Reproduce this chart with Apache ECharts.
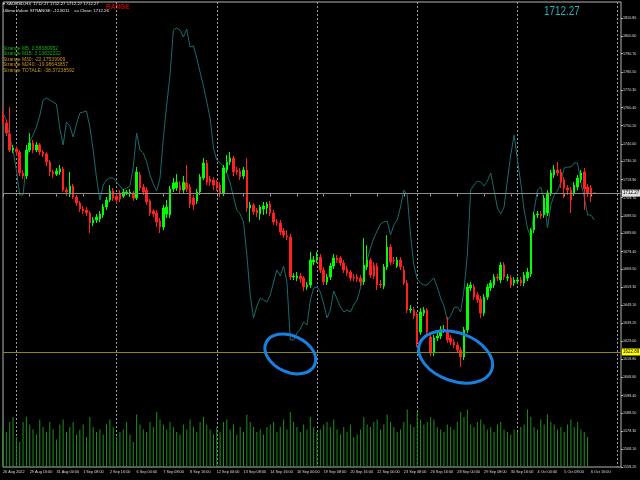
<!DOCTYPE html>
<html><head><meta charset="utf-8">
<script src="https://cdn.jsdelivr.net/npm/echarts@6/dist/echarts.min.js"></script>
<style>html,body{margin:0;padding:0;background:#000}#c{width:640px;height:480px}</style>
</head><body><div id="c"></div>
<script>
const xTickLabels = ['26 Aug 2022','29 Aug 16:00','31 Aug 00:00','1 Sep 08:00','2 Sep 16:00','6 Sep 00:00','7 Sep 08:00','8 Sep 16:00','12 Sep 00:00','13 Sep 08:00','14 Sep 16:00','16 Sep 00:00','19 Sep 08:00','20 Sep 16:00','22 Sep 00:00','23 Sep 08:00','26 Sep 16:00','28 Sep 00:00','29 Sep 08:00','30 Sep 16:00','4 Oct 00:00','5 Oct 08:00','6 Oct 16:00'];
const priceTicks = [1810.80,1800.60,1790.70,1780.50,1770.30,1760.40,1750.20,1740.00,1730.10,1719.90,1709.70,1699.50,1689.60,1679.40,1669.50,1659.30,1649.10,1639.20,1629.00,1618.80,1608.60,1598.40,1588.50,1578.30,1568.10,1558.20];
const opens = [1756.2,1751.7,1745.5,1736.5,1737.1,1735.4,1723.6,1721.9,1736.5,1740.5,1736.5,1739.4,1735.4,1734.3,1729.8,1724.2,1723.0,1724.2,1725.9,1714.0,1711.8,1716.3,1710.1,1706.7,1703.3,1702.8,1701.1,1695.5,1697.2,1697.7,1700.0,1704.5,1708.4,1713.5,1710.6,1712.4,1710.6,1712.4,1711.8,1712.4,1709.5,1722.5,1715.7,1714.0,1707.9,1702.2,1701.1,1696.6,1693.2,1700.5,1700.0,1714.6,1715.2,1716.3,1714.0,1718.0,1715.7,1709.5,1707.9,1712.9,1720.8,1729.2,1720.2,1719.7,1718.0,1716.8,1712.4,1725.3,1729.8,1732.0,1725.3,1724.7,1721.9,1725.3,1703.9,1705.6,1702.8,1700.5,1703.3,1703.9,1706.2,1701.1,1696.0,1695.5,1691.0,1688.2,1687.6,1665.1,1664.5,1665.6,1664.5,1659.5,1660.6,1673.5,1674.6,1676.3,1669.0,1662.3,1665.1,1671.3,1675.8,1675.8,1673.0,1669.6,1667.9,1665.1,1665.1,1664.5,1662.3,1670.7,1674.6,1671.8,1671.3,1661.1,1660.0,1670.7,1682.0,1674.6,1671.3,1674.6,1669.0,1661.7,1646.5,1646.5,1643.7,1634.1,1644.8,1646.5,1631.3,1622.3,1630.8,1631.9,1635.3,1634.7,1630.8,1628.5,1626.8,1624.0,1620.1,1635.3,1658.9,1659.5,1655.0,1652.7,1644.8,1653.8,1658.9,1660.6,1665.1,1663.4,1671.8,1664.5,1664.5,1661.7,1662.8,1663.4,1661.7,1664.5,1666.8,1691.5,1700.0,1700.5,1700.0,1701.1,1712.4,1722.5,1725.3,1724.2,1719.7,1715.2,1714.0,1712.4,1715.7,1719.7,1724.2,1715.7,1715.2,1712.27];
const closes = [1751.7,1746.1,1736.5,1737.7,1735.4,1723.6,1721.9,1736.5,1740.5,1736.5,1739.4,1735.4,1734.3,1729.8,1724.2,1723.0,1724.7,1725.9,1714.0,1712.9,1716.3,1710.1,1706.7,1703.3,1702.2,1701.1,1695.5,1697.2,1698.8,1700.5,1704.5,1708.4,1713.5,1709.5,1708.4,1709.0,1712.9,1712.9,1712.9,1709.5,1724.2,1715.2,1712.9,1707.3,1701.1,1700.5,1696.0,1693.2,1703.9,1704.5,1714.6,1718.0,1718.5,1714.0,1718.5,1714.6,1706.2,1705.6,1712.9,1721.4,1729.2,1718.5,1718.5,1716.8,1715.7,1712.4,1726.4,1729.8,1732.0,1724.2,1724.2,1721.4,1725.3,1703.9,1705.6,1701.7,1701.1,1704.5,1705.0,1706.2,1701.1,1696.0,1695.5,1690.4,1688.7,1687.6,1665.1,1665.6,1665.6,1663.9,1659.5,1660.6,1674.6,1674.6,1676.3,1669.0,1662.3,1665.1,1671.3,1675.8,1674.6,1673.0,1669.0,1667.3,1664.5,1664.5,1663.9,1662.3,1671.8,1674.6,1666.2,1665.6,1660.6,1660.6,1670.7,1682.0,1673.5,1674.1,1674.6,1670.7,1661.7,1646.5,1647.1,1643.1,1628.0,1645.4,1646.5,1634.1,1622.3,1630.8,1631.9,1635.3,1635.3,1629.6,1628.5,1626.8,1624.0,1620.1,1635.3,1659.5,1660.6,1653.8,1652.2,1644.8,1653.8,1659.5,1661.7,1665.1,1664.5,1671.8,1665.1,1665.1,1660.6,1663.4,1663.4,1661.7,1666.2,1667.9,1691.5,1700.0,1700.5,1699.4,1709.5,1712.4,1723.6,1725.4,1723.6,1718.5,1715.2,1714.0,1708.4,1716.8,1720.8,1723.6,1714.6,1712.4,1712.4,1712.27];
const lows = [1750.6,1744.4,1735.4,1734.8,1733.2,1721.9,1720.2,1720.2,1735.4,1734.8,1735.4,1733.7,1732.6,1727.5,1721.9,1720.8,1721.9,1722.5,1712.9,1710.7,1710.1,1709.0,1705.0,1701.7,1700.5,1699.4,1689.8,1693.8,1695.5,1696.0,1698.3,1702.8,1707.3,1707.9,1706.7,1707.3,1709.5,1711.2,1710.1,1707.9,1708.4,1713.5,1711.2,1705.6,1699.4,1698.8,1693.2,1689.8,1691.5,1698.3,1698.3,1712.9,1713.5,1712.4,1712.4,1712.9,1703.9,1702.8,1706.2,1711.2,1719.7,1716.8,1716.3,1714.0,1713.5,1710.1,1710.6,1723.6,1728.1,1721.9,1722.5,1719.7,1720.2,1701.7,1696.0,1700.0,1698.8,1697.2,1700.0,1700.5,1699.4,1694.4,1693.8,1688.7,1687.0,1685.9,1663.4,1663.4,1662.8,1661.7,1657.2,1657.8,1658.9,1671.8,1673.0,1667.3,1660.6,1660.6,1663.4,1669.6,1673.0,1671.3,1667.3,1665.6,1662.8,1662.8,1662.3,1660.0,1660.6,1669.0,1664.5,1663.9,1657.8,1658.9,1658.3,1669.0,1671.8,1672.4,1670.2,1669.0,1660.6,1644.8,1644.8,1641.5,1625.7,1632.5,1643.1,1632.5,1620.6,1620.6,1629.1,1630.2,1633.6,1628.0,1626.8,1625.1,1622.3,1614.5,1618.4,1633.6,1657.2,1652.2,1650.5,1642.0,1643.1,1652.2,1657.2,1658.9,1662.8,1661.7,1663.4,1662.8,1658.9,1660.0,1661.1,1660.0,1660.0,1662.8,1665.1,1689.8,1698.3,1697.7,1698.3,1699.4,1710.6,1720.8,1721.9,1715.2,1709.5,1711.2,1701.1,1710.6,1714.0,1718.0,1702.8,1710.1,1707.3,1712.27];
const highs = [1759.0,1753.4,1760.7,1739.4,1738.8,1736.5,1725.3,1739.4,1746.1,1742.2,1741.0,1740.5,1736.5,1735.4,1730.9,1725.3,1726.4,1728.1,1727.0,1715.7,1724.2,1717.4,1711.2,1707.8,1705.0,1704.5,1702.2,1698.8,1700.5,1702.2,1706.2,1710.1,1716.8,1715.2,1712.4,1714.0,1714.6,1714.0,1714.6,1713.5,1727.0,1724.2,1717.4,1715.7,1709.0,1703.3,1702.8,1698.3,1705.6,1708.4,1716.3,1720.8,1723.0,1719.1,1721.9,1728.1,1717.4,1711.2,1714.6,1723.0,1732.0,1730.9,1721.9,1721.4,1719.7,1718.5,1728.1,1733.7,1735.4,1733.2,1727.0,1726.4,1727.0,1732.0,1707.3,1706.7,1703.9,1705.6,1707.3,1707.3,1707.9,1702.8,1697.7,1697.2,1692.6,1691.5,1689.3,1667.3,1667.9,1667.3,1665.6,1662.3,1679.2,1676.9,1679.2,1678.0,1670.7,1666.8,1673.0,1678.0,1677.5,1676.9,1674.6,1671.3,1669.0,1666.8,1666.8,1666.2,1687.0,1683.1,1675.8,1673.5,1673.0,1663.4,1672.4,1688.7,1683.6,1676.3,1676.3,1676.3,1671.3,1663.4,1649.3,1648.2,1645.4,1647.6,1648.2,1647.6,1633.0,1632.5,1633.6,1637.5,1638.1,1642.6,1632.5,1630.2,1628.5,1625.7,1637.0,1661.7,1662.3,1661.1,1656.6,1654.4,1655.5,1661.1,1663.4,1666.8,1666.8,1673.5,1673.5,1666.8,1666.2,1665.1,1665.1,1665.1,1667.9,1670.2,1692.6,1701.7,1702.2,1702.2,1711.2,1714.0,1725.3,1728.1,1729.8,1725.9,1721.4,1716.8,1715.7,1718.5,1722.5,1725.3,1726.4,1717.4,1716.8,1712.27];
const strange = [40.7,37.2,28.7,22.2,12.2,-0.3,-0.3,16.2,26.2,29.7,33.7,39.2,47.2,48.2,47.2,46.2,45.2,33.2,24.7,36.2,34.2,28.7,35.2,40.7,41.2,41.7,33.7,22.2,8.2,-2.8,4.7,7.2,8.2,8.2,6.2,4.2,2.2,3.2,4.2,13.7,30.7,22.2,20.7,16.2,9.7,5.2,1.7,8.2,28.2,44.7,59.7,82.2,83.2,82.2,78.7,82.7,73.7,74.2,68.2,61.2,54.2,46.2,38.2,23.2,17.2,15.7,14.2,10.7,5.7,-1.3,-7.8,-9.8,-13.8,-30.3,-50.3,-61.8,-55.8,-51.8,-52.8,-53.8,-50.3,-43.8,-37.8,-40.8,-35.8,-43.8,-72.8,-72.8,-69.3,-67.3,-63.8,-65.3,-52.8,-46.8,-46.3,-48.8,-54.8,-61.8,-57.8,-48.3,-52.3,-56.3,-58.8,-57.8,-58.8,-55.3,-52.8,-46.8,-40.8,-32.8,-26.8,-21.8,-18.3,-14.8,-13.8,-13.3,-20.3,-15.3,-12.8,-6.3,2.2,-0.3,-20.3,-35.3,-42.3,-44.3,-45.3,-45.3,-43.3,-41.8,-46.3,-51.8,-55.8,-62.8,-60.8,-56.8,-56.3,-58.8,-47.8,-30.3,2.2,4.7,6.7,6.2,4.2,6.7,10.7,2.2,-6.8,-9.8,-6.3,7.2,19.7,29.7,17.2,5.7,-7.8,-16.8,-21.8,-7.8,2.2,3.7,-2.8,-16.8,-5.3,-0.3,1.7,6.2,13.2,13.7,13.7,15.7,15.7,5.7,-1.3,-10.3,-10.3,-12.8];
const volumes = [1600,1400,1800,2000,1200,1000,1800,2000,1700,1500,1300,1900,1600,1400,1800,1500,1100,1700,1900,1400,1600,1800,1300,1500,1700,1200,2000,1600,1400,1500,1300,1700,1900,1600,1200,1400,1500,1800,1300,1000,2100,1700,1500,1400,1800,1600,2200,1900,1700,1500,1800,1600,1400,1300,1700,1500,1900,1600,1400,1800,2000,1700,1500,1300,1600,1400,1800,1900,1500,1700,1300,1600,1400,2100,1800,1600,1400,1500,1300,1600,1700,1800,1400,1600,1900,1500,2200,1800,1600,1400,1700,1500,2000,1600,1400,1500,1700,1800,1600,1900,1500,1300,1600,1400,1700,1200,1300,1500,2000,1700,1600,1800,1900,1500,1700,2100,1800,1600,1400,1500,1800,2300,1700,1600,2200,1900,1700,1800,2000,1900,1600,1500,1400,1700,1600,1500,1800,2200,2000,2300,1700,1600,1800,1900,1700,1500,1600,1400,1700,1800,1500,1400,1300,1500,1400,1600,1700,2300,2000,1600,1500,1900,1700,2100,1800,1700,1500,1600,1400,1700,1900,1600,1800,1500,1400,1200];
const ellipseMarks = [[78,1632.0,94,1611.6,25],[124,1633.6,147,1606.6,20]];
const lastPrice = 1712.27, levelPrice = 1622.89;

const slots = 186;
const cats = Array.from({length:slots},(_,i)=>String(i));
const candles = opens.map((o,i)=>[o,closes[i],lows[i],highs[i]]);

const chart = echarts.init(document.getElementById('c'));
const small = 'Liberation Sans, Arial, sans-serif';
chart.setOption({
  backgroundColor:'#000',
  animation:false,
  grid:{left:2,right:19,top:2,bottom:13,show:true,borderColor:'#b4b4b4',borderWidth:1},
  xAxis:{type:'category',data:cats,boundaryGap:false,
    axisLine:{show:false},
    axisTick:{show:true,interval:(i)=>i%8===0&&i<=176,length:2,lineStyle:{color:'#b4b4b4'}},
    axisLabel:{interval:(i)=>i%8===0&&i<=176,formatter:(v,i)=>xTickLabels[i/8]||'',color:'#dcdcdc',fontSize:3.8,fontFamily:small,align:'left',margin:3},
    splitLine:{show:true,interval:(i)=>i>=4&&(i-4)%30===0,lineStyle:{color:'#9a9a9a',type:[2,2],width:1}}
  },
  yAxis:[
    {type:'value',position:'right',min:1558.2,max:1819.8,
      axisLine:{show:false},splitLine:{show:false},
      axisTick:{show:true,customValues:priceTicks,length:2,lineStyle:{color:'#b4b4b4'}},
      axisLabel:{customValues:priceTicks,formatter:(v)=>v.toFixed(2),color:'#dcdcdc',fontSize:3.7,fontFamily:small,margin:2}},
    {type:'value',min:-136.3,max:96.2,show:false},
    {type:'value',min:0,max:18600,show:false}
  ],
  series:[
    {type:'bar',yAxisIndex:2,data:volumes,barWidth:1,itemStyle:{color:'#1c921c'},silent:true,z:1},
    {type:'line',yAxisIndex:1,data:strange,showSymbol:false,symbol:'none',lineStyle:{color:'#1c6a6a',width:1},silent:true,z:2},
    {type:'candlestick',yAxisIndex:0,data:candles,barWidth:2,z:3,
      itemStyle:{color:'#00ff00',color0:'#ff2020',borderColor:'#00ff00',borderColor0:'#ff2020',borderWidth:1},
      markLine:{silent:true,symbol:'none',animation:false,
        data:[
          {yAxis:lastPrice,lineStyle:{color:'#8c8c8c',type:'solid',width:1},
            label:{show:true,position:'end',distance:1,formatter:lastPrice.toFixed(2),color:'#000',backgroundColor:'#e0e0e0',fontSize:4.5,padding:[1,1],fontFamily:small}},
          {yAxis:levelPrice,lineStyle:{color:'#8a8a00',type:'solid',width:1},
            label:{show:true,position:'end',distance:1,formatter:levelPrice.toFixed(2),color:'#000',backgroundColor:'#ffff00',fontSize:4.5,padding:[1,1],fontFamily:small}}
        ]}},
    {type:'custom',yAxisIndex:0,data:ellipseMarks,z:10,silent:true,
      renderItem(params,api){
        const a=api.coord([api.value(0),api.value(1)]), b=api.coord([api.value(2),api.value(3)]);
        const cx=(a[0]+b[0])/2, cy=(a[1]+b[1])/2;
        return {type:'ellipse',shape:{cx,cy,rx:Math.abs(b[0]-a[0])/2,ry:Math.abs(b[1]-a[1])/2},
          rotation:-api.value(4)*Math.PI/180,originX:cx,originY:cy,
          style:{fill:null,stroke:'#1a80e0',lineWidth:3}};
      }}
  ],
  graphic:[
    {type:'text',left:3,top:2,style:{text:'\u25BE XAUUSD,H4  1712.27 1712.27 1712.27 1712.27',fill:'#e8e8e8',font:'4.3px '+small}},
    {type:'text',left:3,top:9,style:{text:'Ultimo Valore STRANGE: -12.8011    su Close: 1712.26',fill:'#e8e8e8',font:'4.3px '+small}},
    {type:'text',left:106,top:4,style:{text:'RANGE',fill:'#c00000',font:'bold 6.5px '+small}},
    {type:'text',left:3,top:46,style:{text:'Strange M5: 0.58380952',fill:'#12b012',font:'5px '+small}},
    {type:'text',left:3,top:51.5,style:{text:'Strange M15: 3.13832222',fill:'#12b012',font:'5px '+small}},
    {type:'text',left:3,top:57,style:{text:'Strange M30: -22.17539909',fill:'#c8901c',font:'5px '+small}},
    {type:'text',left:3,top:62.5,style:{text:'Strange M240: -19.98643857',fill:'#c8901c',font:'5px '+small}},
    {type:'text',left:3,top:68,style:{text:'Strange TOTALE: -38.37238592',fill:'#c8901c',font:'5px '+small}},
    {type:'text',x:544,y:5,scaleX:0.76,style:{text:'1712.27',fill:'#1fb3b3',font:'13px '+small,textVerticalAlign:'top'}}
  ]
});
</script></body></html>
